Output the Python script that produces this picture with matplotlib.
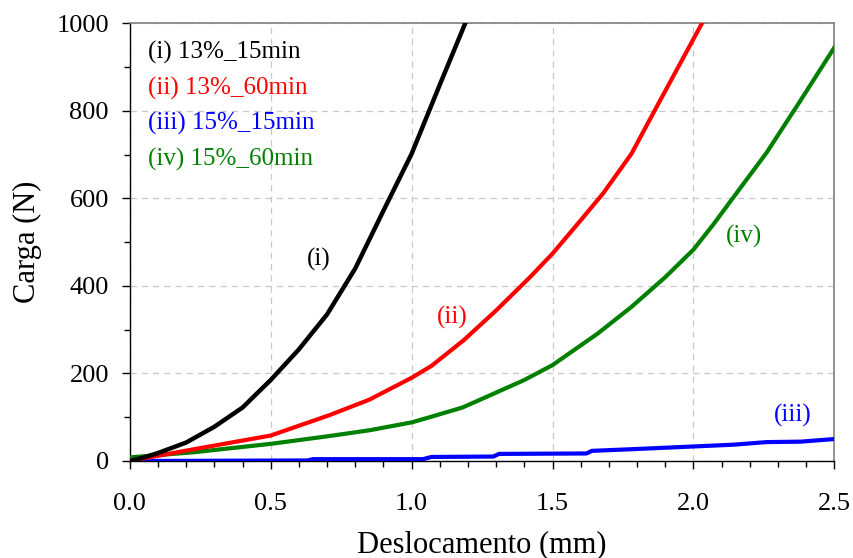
import numpy as np
import matplotlib.pyplot as plt
from matplotlib.ticker import MultipleLocator

plt.rcParams['font.family'] = ['Liberation Serif', 'DejaVu Serif']

# Data (Deslocamento mm, Carga N)
x_i = [0.0, 0.05, 0.10, 0.20, 0.30, 0.40, 0.50, 0.60, 0.70, 0.80, 0.90, 1.00,
       1.10, 1.19]
y_i = [0, 8, 18, 42, 78, 122, 185, 255, 335, 440, 572, 702, 860, 1000]

x_ii = [0.0, 0.23, 0.50, 0.71, 0.85, 1.00, 1.07, 1.185, 1.30, 1.42, 1.50, 1.60,
        1.68, 1.78, 1.87, 1.95, 2.03]
y_ii = [0, 27, 58, 105, 140, 190, 217, 276, 344, 420, 474, 550, 612, 702, 810, 905, 1000]

x_iii = [0.0, 0.10, 0.63, 0.65, 1.04, 1.07, 1.29, 1.31, 1.62, 1.64, 1.79, 2.00,
         2.14, 2.26, 2.38, 2.50]
y_iii = [0, 0, 1, 4, 4, 9, 10, 16, 17, 23, 27, 33, 37, 43, 44, 50]

x_iv = [0.0, 0.23, 0.50, 0.71, 0.85, 1.00, 1.07, 1.18, 1.24, 1.40, 1.50, 1.66,
        1.78, 1.90, 2.00, 2.07, 2.14, 2.26, 2.38, 2.50]
y_iv = [8, 20, 39, 57, 70, 88, 101, 122, 139, 185, 219, 291, 352, 420, 483,
        540, 601, 705, 824, 945]

legend_labels = ['(i) 13%_15min', '(ii) 13%_60min', '(iii) 15%_15min', '(iv) 15%_60min']
curve_tags = ['(i)', '(ii)', '(iii)', '(iv)']
tag_pos = [(0.67, 461), (1.145, 328), (2.354, 103), (2.18, 514)]
colors = ['black', 'red', 'blue', 'green']

fig = plt.figure(figsize=(8.54, 5.58), dpi=100)
ax = fig.add_axes([0.152, 0.174, 0.825, 0.784])

ax.plot(x_iii, y_iii, color='blue', lw=3, zorder=3)
ax.plot(x_iv, y_iv, color='green', lw=3, zorder=4)
ax.plot(x_ii, y_ii, color='red', lw=3, zorder=5)
ax.plot(x_i, y_i, color='black', lw=3.2, zorder=6)

ax.set_xlim(0, 2.5)
ax.set_ylim(0, 1000)
ax.xaxis.set_major_locator(MultipleLocator(0.5))
ax.xaxis.set_minor_locator(MultipleLocator(0.1))
ax.yaxis.set_major_locator(MultipleLocator(200))
ax.yaxis.set_minor_locator(MultipleLocator(100))
ax.set_xticks(np.arange(0, 2.51, 0.5))
ax.set_xticklabels([f'{v:.1f}' for v in np.arange(0, 2.51, 0.5)])

ax.grid(True, which='major', color='#c8c8c8', linestyle=(0, (5, 4)), lw=0.9)
ax.tick_params(which='major', direction='out', length=6, width=1, labelsize=19)
ax.tick_params(axis='x', which='major', pad=17)
ax.tick_params(axis='y', which='major', pad=9)
ax.tick_params(which='minor', direction='out', length=4, width=1)
ax.tick_params(top=False, right=False, which='both')

for s in ['left', 'bottom']:
    ax.spines[s].set_color('black')
    ax.spines[s].set_linewidth(1)
for s in ['top', 'right']:
    ax.spines[s].set_color('#808080')
    ax.spines[s].set_linewidth(1.2)

ax.set_xlabel('Deslocamento (mm)', fontsize=22, labelpad=11)
ax.set_ylabel('Carga (N)', fontsize=22, labelpad=10)

for k, (lab, c) in enumerate(zip(legend_labels, colors)):
    ax.text(0.026, 0.933 - k * 0.0812, lab, color=c, fontsize=18,
            transform=ax.transAxes, va='center', ha='left')

for tag, (tx, ty), c in zip(curve_tags, tag_pos, colors):
    ax.text(tx, ty, tag, color=c, fontsize=18, ha='center', va='center')

fig.savefig('out.png', dpi=100)
